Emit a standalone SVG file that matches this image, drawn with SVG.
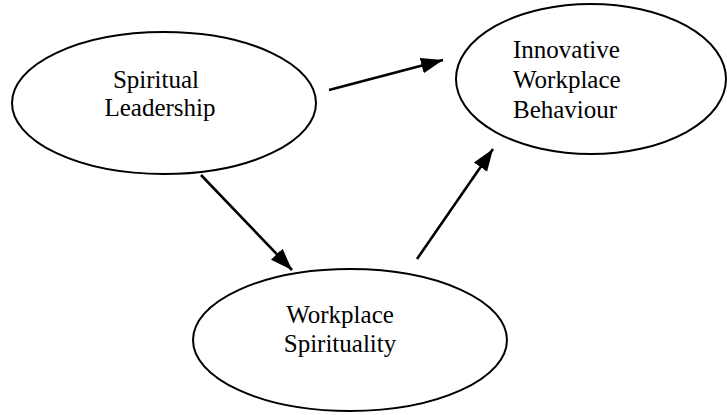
<svg xmlns="http://www.w3.org/2000/svg" width="727" height="415" viewBox="0 0 727 415">
<style>
.node ellipse{fill:#fff;stroke:#000;stroke-width:2}
.node text{font-family:"Liberation Serif","Times New Roman",serif;font-size:25px;fill:#000}
.conn line{stroke:#000;stroke-width:2.6}
</style>
<defs>
<marker id="ah" markerUnits="userSpaceOnUse" markerWidth="24" markerHeight="18" refX="22" refY="8" orient="auto" viewBox="0 0 24 16">
<path d="M0,0 L22,8 L0,16 Z" fill="#000"/>
</marker>
</defs>
<rect width="727" height="415" fill="#fff"/>
<g id="spiritual-leadership" class="node">
<ellipse cx="164" cy="103" rx="152" ry="71"/>
<text x="156" y="88" text-anchor="middle">Spiritual</text>
<text x="160" y="116" text-anchor="middle">Leadership</text>
</g>
<g id="innovative-workplace-behaviour" class="node">
<ellipse cx="591" cy="79" rx="135" ry="75"/>
<text x="513" y="58">Innovative</text>
<text x="513" y="88">Workplace</text>
<text x="513" y="118">Behaviour</text>
</g>
<g id="workplace-spirituality" class="node">
<ellipse cx="350" cy="340" rx="157" ry="71"/>
<text x="340" y="323" text-anchor="middle">Workplace</text>
<text x="340" y="352" text-anchor="middle">Spirituality</text>
</g>
<g id="connectors" class="conn">
<line x1="329" y1="90" x2="443" y2="60" marker-end="url(#ah)"/>
<line x1="201" y1="175" x2="292" y2="270" marker-end="url(#ah)"/>
<line x1="417" y1="259" x2="493" y2="149" marker-end="url(#ah)"/>
</g>
</svg>
